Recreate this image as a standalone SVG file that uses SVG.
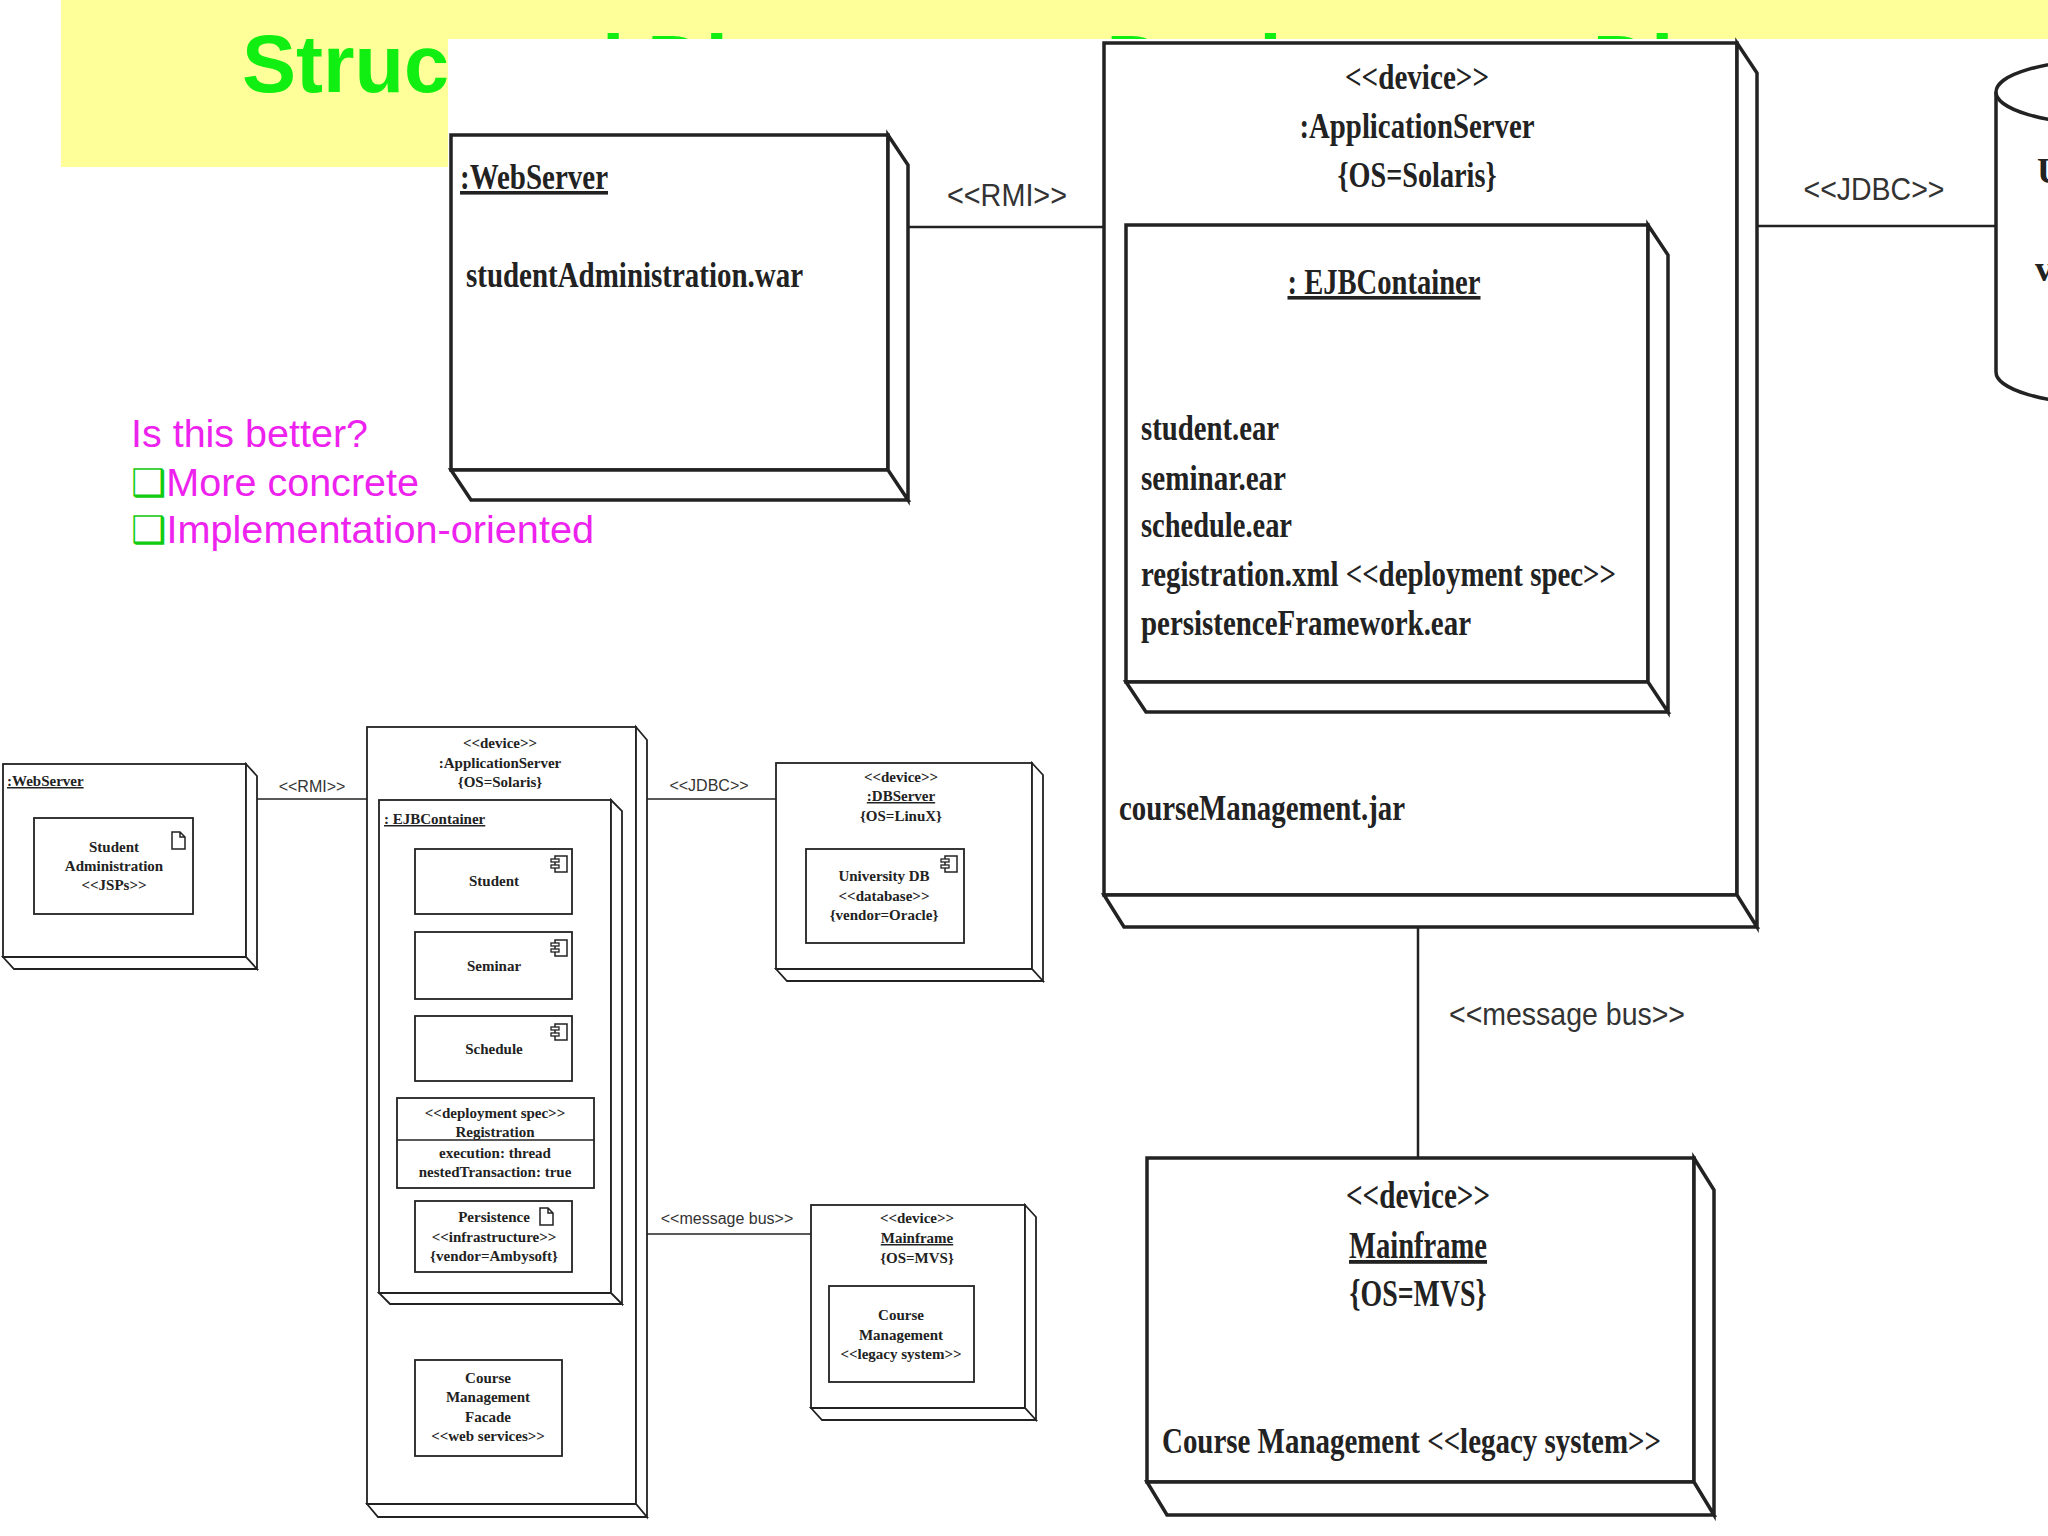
<svg xmlns="http://www.w3.org/2000/svg" width="2048" height="1536" viewBox="0 0 2048 1536">
<style>
.n{fill:#fff;stroke:#222;stroke-width:3.5}
.s{fill:#fff;stroke:#222;stroke-width:1.8}
.c{stroke:#222;stroke-width:2.5;fill:none}
.cs{stroke:#222;stroke-width:1.6;fill:none}
.t{font-family:"Liberation Serif",serif;font-weight:bold;fill:#222}
.big{font-size:36px}
.sm{font-size:15px}
.lab{font-family:"Liberation Sans",sans-serif;fill:#333}
.mid{text-anchor:middle}
.mag{font-family:"Liberation Sans",sans-serif;font-size:38px;fill:#ee22ee}
</style>
<defs>
<g id="comp"><rect x="0" y="0" width="12" height="16" fill="#fff" stroke="#222" stroke-width="1.5"/><rect x="-4" y="3" width="8" height="3" fill="#fff" stroke="#222" stroke-width="1.3"/><rect x="-4" y="9" width="8" height="3" fill="#fff" stroke="#222" stroke-width="1.3"/></g>
<path id="doc" d="M0,0 H8 L13,5 V17 H0 Z M8,0 V5 H13" fill="#fff" stroke="#222" stroke-width="1.5"/>
</defs>
<rect x="0" y="0" width="2048" height="1536" fill="#fff"/>
<rect x="61" y="0" width="1987" height="167" fill="#ffff99"/>
<text x="242" y="92" font-family="Liberation Sans,sans-serif" font-weight="bold" font-size="81" fill="#11ee11">Structural Diagrams – Deployment Diagram</text>
<rect x="448" y="39" width="1600" height="1497" fill="#fff"/>

<g id="connectors">
<line class="c" x1="908" y1="227" x2="1104" y2="227"/>
<line class="c" x1="1757" y1="226" x2="1996" y2="226"/>
<line class="c" x1="1418" y1="927" x2="1418" y2="1158"/>
<line class="cs" x1="257" y1="799" x2="367" y2="799"/>
<line class="cs" x1="636" y1="799" x2="776" y2="799"/>
<line class="cs" x1="636" y1="1234" x2="811" y2="1234"/>
<text class="lab mid" x="1007" y="206" font-size="31" textLength="120" lengthAdjust="spacingAndGlyphs">&lt;&lt;RMI&gt;&gt;</text>
<text class="lab mid" x="1874" y="200" font-size="31" textLength="141" lengthAdjust="spacingAndGlyphs">&lt;&lt;JDBC&gt;&gt;</text>
<text class="lab mid" x="1567" y="1025" font-size="32" textLength="236" lengthAdjust="spacingAndGlyphs">&lt;&lt;message bus&gt;&gt;</text>
<text class="lab mid" x="312" y="792" font-size="16">&lt;&lt;RMI&gt;&gt;</text>
<text class="lab mid" x="709" y="791" font-size="16">&lt;&lt;JDBC&gt;&gt;</text>
<text class="lab mid" x="727" y="1224" font-size="16">&lt;&lt;message bus&gt;&gt;</text>
</g>

<g id="webserver">
<rect class="n" x="451" y="135" width="437" height="335"/>
<path class="n" d="M888,135 L908,165 V500 L888,470 Z M451,470 H888 L908,500 H471 Z"/>
<text class="t big" x="460" y="189" text-decoration="underline" textLength="148" lengthAdjust="spacingAndGlyphs">:WebServer</text>
<text class="t big" x="466" y="287" textLength="337" lengthAdjust="spacingAndGlyphs">studentAdministration.war</text>
</g>

<g id="appserver">
<rect class="n" x="1104" y="43" width="633" height="852"/>
<path class="n" d="M1737,43 L1757,73 V927 L1737,895 Z M1104,895 H1737 L1757,927 H1124 Z"/>
<text class="t big mid" x="1417" y="89" textLength="144" lengthAdjust="spacingAndGlyphs">&lt;&lt;device&gt;&gt;</text>
<text class="t big mid" x="1417" y="138" textLength="235" lengthAdjust="spacingAndGlyphs">:ApplicationServer</text>
<text class="t big mid" x="1417" y="187" textLength="159" lengthAdjust="spacingAndGlyphs">{OS=Solaris}</text>
<text class="t big" x="1119" y="820" textLength="286" lengthAdjust="spacingAndGlyphs">courseManagement.jar</text>
<g id="ejb">
<rect class="n" x="1126" y="225" width="522" height="457"/>
<path class="n" d="M1648,225 L1668,255 V712 L1648,682 Z M1126,682 H1648 L1668,712 H1146 Z"/>
<text class="t big mid" x="1384" y="294" text-decoration="underline" textLength="193" lengthAdjust="spacingAndGlyphs">: EJBContainer</text>
<text class="t big" x="1141" y="440" textLength="138" lengthAdjust="spacingAndGlyphs">student.ear</text>
<text class="t big" x="1141" y="490" textLength="145" lengthAdjust="spacingAndGlyphs">seminar.ear</text>
<text class="t big" x="1141" y="537" textLength="151" lengthAdjust="spacingAndGlyphs">schedule.ear</text>
<text class="t big" x="1141" y="586" textLength="475" lengthAdjust="spacingAndGlyphs">registration.xml &lt;&lt;deployment spec&gt;&gt;</text>
<text class="t big" x="1141" y="635" textLength="330" lengthAdjust="spacingAndGlyphs">persistenceFramework.ear</text>
</g>
</g>

<g id="database">
<path class="n" d="M1996,92 V372 A110,32 0 0 0 2216,372 V92"/>
<ellipse class="n" cx="2106" cy="92" rx="110" ry="32"/>
<text class="t big" x="2037" y="183">U</text>
<text class="t big" x="2035" y="281">v</text>
</g>

<g id="mainframe">
<rect class="n" x="1147" y="1158" width="547" height="324"/>
<path class="n" d="M1694,1158 L1714,1190 V1515 L1694,1482 Z M1147,1482 H1694 L1714,1515 H1167 Z"/>
<text class="t mid" font-size="38" x="1418" y="1208" textLength="144" lengthAdjust="spacingAndGlyphs">&lt;&lt;device&gt;&gt;</text>
<text class="t mid" font-size="38" x="1418" y="1258" text-decoration="underline" textLength="138" lengthAdjust="spacingAndGlyphs">Mainframe</text>
<text class="t mid" font-size="38" x="1418" y="1306" textLength="137" lengthAdjust="spacingAndGlyphs">{OS=MVS}</text>
<text class="t" font-size="36" x="1162" y="1453" textLength="499" lengthAdjust="spacingAndGlyphs">Course Management &lt;&lt;legacy system&gt;&gt;</text>
</g>

<g id="question">
<text class="mag" x="131" y="447" textLength="237" lengthAdjust="spacingAndGlyphs">Is this better?</text>
<text class="mag" x="131" y="496" textLength="288" lengthAdjust="spacingAndGlyphs"><tspan fill="#11cc11">❑</tspan>More concrete</text>
<text class="mag" x="131" y="543" textLength="463" lengthAdjust="spacingAndGlyphs"><tspan fill="#11cc11">❑</tspan>Implementation-oriented</text>
</g>

<g id="s-webserver">
<rect class="s" x="3" y="764" width="243" height="193"/>
<path class="s" d="M246,764 L257,776 V969 L246,957 Z M3,957 H246 L257,969 H14 Z"/>
<text class="t sm" x="7" y="786" text-decoration="underline">:WebServer</text>
<rect class="s" x="34" y="818" width="159" height="96"/>
<use href="#doc" x="172" y="832"/>
<text class="t sm mid" x="114" y="852">Student</text>
<text class="t sm mid" x="114" y="871">Administration</text>
<text class="t sm mid" x="114" y="890">&lt;&lt;JSPs&gt;&gt;</text>
</g>

<g id="s-appserver">
<rect class="s" x="367" y="727" width="269" height="777"/>
<path class="s" d="M636,727 L647,740 V1517 L636,1504 Z M367,1504 H636 L647,1517 H378 Z"/>
<text class="t sm mid" x="500" y="748">&lt;&lt;device&gt;&gt;</text>
<text class="t sm mid" x="500" y="768">:ApplicationServer</text>
<text class="t sm mid" x="500" y="787">{OS=Solaris}</text>
<rect class="s" x="379" y="800" width="232" height="493"/>
<path class="s" d="M611,800 L622,811 V1304 L611,1293 Z M379,1293 H611 L622,1304 H390 Z"/>
<text class="t sm" x="384" y="824" text-decoration="underline">: EJBContainer</text>
<rect class="s" x="415" y="849" width="157" height="65"/><use href="#comp" x="555" y="856"/>
<text class="t sm mid" x="494" y="886">Student</text>
<rect class="s" x="415" y="932" width="157" height="67"/><use href="#comp" x="555" y="940"/>
<text class="t sm mid" x="494" y="971">Seminar</text>
<rect class="s" x="415" y="1016" width="157" height="65"/><use href="#comp" x="555" y="1024"/>
<text class="t sm mid" x="494" y="1054">Schedule</text>
<rect class="s" x="397" y="1098" width="197" height="90"/>
<line class="cs" x1="397" y1="1140" x2="594" y2="1140"/>
<text class="t sm mid" x="495" y="1118">&lt;&lt;deployment spec&gt;&gt;</text>
<text class="t sm mid" x="495" y="1137">Registration</text>
<text class="t sm mid" x="495" y="1158">execution: thread</text>
<text class="t sm mid" x="495" y="1177">nestedTransaction: true</text>
<rect class="s" x="415" y="1201" width="157" height="71"/>
<use href="#doc" x="540" y="1208"/>
<text class="t sm mid" x="494" y="1222">Persistence</text>
<text class="t sm mid" x="494" y="1242">&lt;&lt;infrastructure&gt;&gt;</text>
<text class="t sm mid" x="494" y="1261">{vendor=Ambysoft}</text>
<rect class="s" x="415" y="1360" width="147" height="96"/>
<text class="t sm mid" x="488" y="1383">Course</text>
<text class="t sm mid" x="488" y="1402">Management</text>
<text class="t sm mid" x="488" y="1422">Facade</text>
<text class="t sm mid" x="488" y="1441">&lt;&lt;web services&gt;&gt;</text>
</g>

<g id="s-dbserver">
<rect class="s" x="776" y="763" width="256" height="206"/>
<path class="s" d="M1032,763 L1043,775 V981 L1032,969 Z M776,969 H1032 L1043,981 H787 Z"/>
<text class="t sm mid" x="901" y="782">&lt;&lt;device&gt;&gt;</text>
<text class="t sm mid" x="901" y="801" text-decoration="underline">:DBServer</text>
<text class="t sm mid" x="901" y="821">{OS=LinuX}</text>
<rect class="s" x="806" y="849" width="158" height="94"/><use href="#comp" x="945" y="856"/>
<text class="t sm mid" x="884" y="881">University DB</text>
<text class="t sm mid" x="884" y="901">&lt;&lt;database&gt;&gt;</text>
<text class="t sm mid" x="884" y="920">{vendor=Oracle}</text>
</g>

<g id="s-mainframe">
<rect class="s" x="811" y="1205" width="214" height="203"/>
<path class="s" d="M1025,1205 L1036,1217 V1420 L1025,1408 Z M811,1408 H1025 L1036,1420 H822 Z"/>
<text class="t sm mid" x="917" y="1223">&lt;&lt;device&gt;&gt;</text>
<text class="t sm mid" x="917" y="1243" text-decoration="underline">Mainframe</text>
<text class="t sm mid" x="917" y="1263">{OS=MVS}</text>
<rect class="s" x="829" y="1286" width="145" height="96"/>
<text class="t sm mid" x="901" y="1320">Course</text>
<text class="t sm mid" x="901" y="1340">Management</text>
<text class="t sm mid" x="901" y="1359">&lt;&lt;legacy system&gt;&gt;</text>
</g>
</svg>
